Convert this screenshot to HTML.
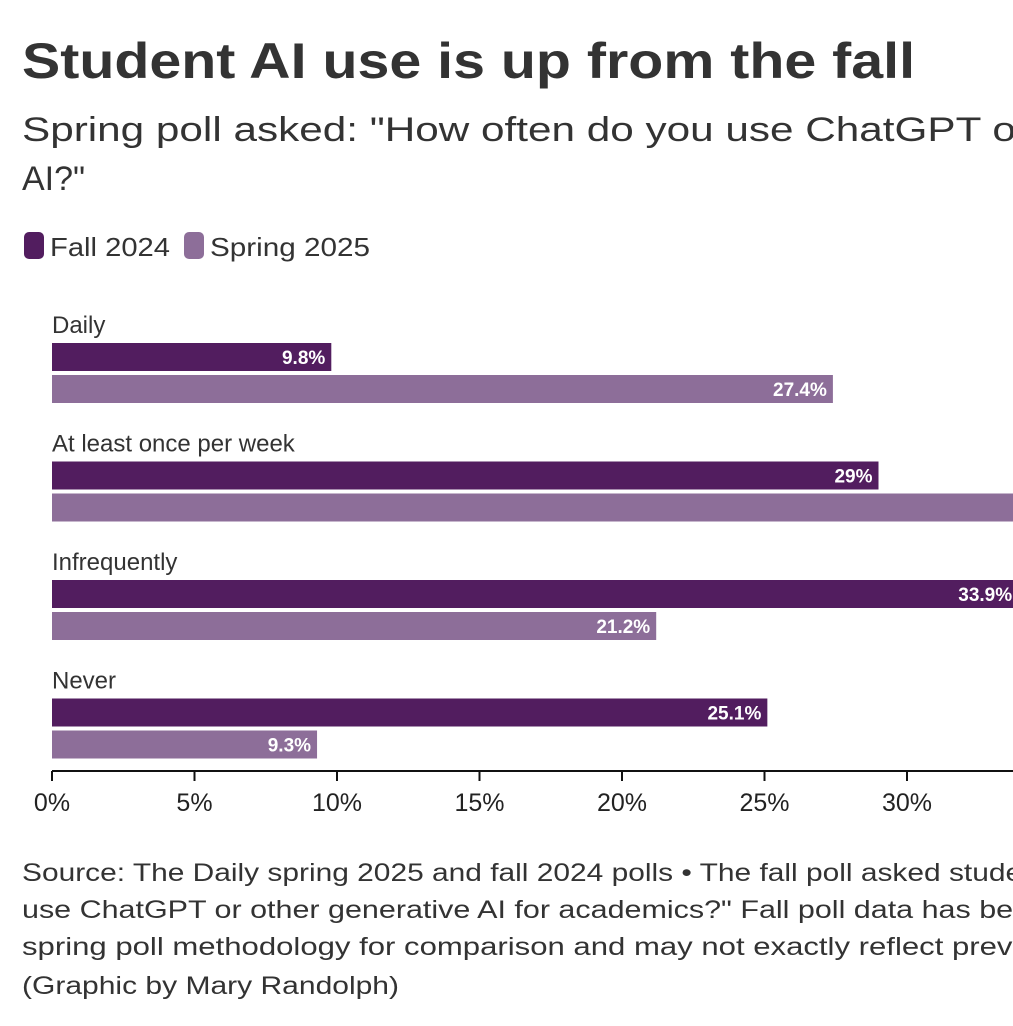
<!DOCTYPE html>
<html><head><meta charset="utf-8"><style>
body{margin:0;background:#fff;width:1013px;height:1026px;overflow:hidden;font-family:"Liberation Sans",sans-serif;}
svg{display:block}
</style></head><body>
<svg id="chart" width="1013" height="1026">
<text x="22" y="78" font-size="50" font-weight="bold" fill="#333" textLength="893" lengthAdjust="spacingAndGlyphs">Student AI use is up from the fall</text>
<text x="22" y="141" font-size="34" fill="#333" textLength="1008" lengthAdjust="spacingAndGlyphs">Spring poll asked: "How often do you use ChatGPT or</text>
<text x="22" y="190" font-size="34" fill="#333">AI?"</text>
<g>
<rect x="24" y="232" width="20" height="27" rx="5" fill="#521d5f"/>
<text x="50" y="256" font-size="26" fill="#333" textLength="120" lengthAdjust="spacingAndGlyphs">Fall 2024</text>
<rect x="184" y="232" width="20" height="27" rx="5" fill="#8d6e99"/>
<text x="210" y="256" font-size="26" fill="#333" textLength="160" lengthAdjust="spacingAndGlyphs">Spring 2025</text>
</g>
<g id="bars"></g>
<g id="axis"></g>
<text x="22" y="881" font-size="25" fill="#333" textLength="1040" lengthAdjust="spacingAndGlyphs">Source: The Daily spring 2025 and fall 2024 polls • The fall poll asked students</text>
<text x="22" y="918" font-size="25" fill="#333" textLength="1025" lengthAdjust="spacingAndGlyphs">use ChatGPT or other generative AI for academics?" Fall poll data has been</text>
<text x="22" y="955" font-size="25" fill="#333" textLength="1070" lengthAdjust="spacingAndGlyphs">spring poll methodology for comparison and may not exactly reflect previously</text>
<text x="22" y="994" font-size="25" fill="#333" textLength="377" lengthAdjust="spacingAndGlyphs">(Graphic by Mary Randolph)</text>
</svg>
<script>
const categories=["Daily","At least once per week","Infrequently","Never"];
const fall2024=[9.8,29,33.9,25.1];
const spring2025=[27.4,42.1,21.2,9.3];
const ticks=[0,5,10,15,20,25,30,35];
const NS="http://www.w3.org/2000/svg";
const x0=52,pxPer=28.5;
const xs=v=>x0+v*pxPer;
function mk(t,a,p){const e=document.createElementNS(NS,t);for(const k in a)e.setAttribute(k,a[k]);p.appendChild(e);return e;}
const bars=document.getElementById('bars');
categories.forEach((c,i)=>{
 const y=343+i*118.5;
 const lab=mk('text',{x:52,y:y-10,'font-size':24,fill:'#333'},bars);lab.textContent=c;
 
 
 [[fall2024[i],'#521d5f',0,'bar-fall'],[spring2025[i],'#8d6e99',32,'bar-spring']].forEach(([v,col,off,nm])=>{
  const r=mk('rect',{x:x0,y:y+off,width:xs(v)-x0,height:28,fill:col},bars);
  
  
  const t=mk('text',{x:xs(v)-6,y:y+off+21,'font-size':19,'font-weight':'bold',fill:'#fff','text-anchor':'end'},bars);
  t.textContent=v+'%';
  
  
 });
});
const ax=document.getElementById('axis');
const l=mk('line',{x1:x0,x2:1013,y1:771,y2:771,stroke:'#111','stroke-width':2},ax);


ticks.forEach(v=>{
 const tk=mk('line',{x1:xs(v),x2:xs(v),y1:771,y2:781,stroke:'#111','stroke-width':2},ax);
 
 
 const t=mk('text',{x:xs(v),y:811,'font-size':25,fill:'#222','text-anchor':'middle'},ax);
 t.textContent=v+'%';
 
 
});
</script>
</body></html>
